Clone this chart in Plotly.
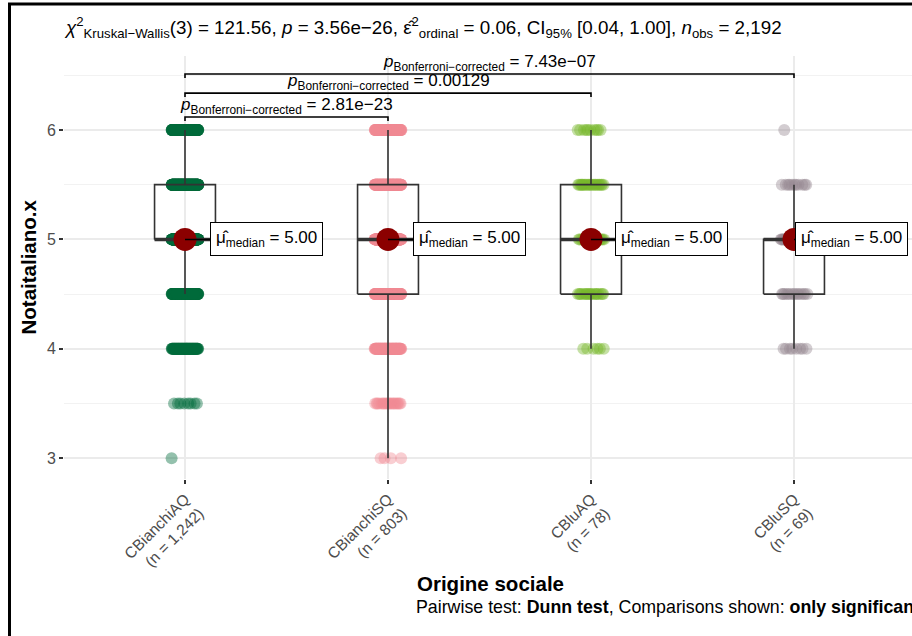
import numpy as np
import plotly.graph_objects as go

# ---------------- data ----------------
groups = ["CBianchiAQ", "CBianchiSQ", "CBluAQ", "CBluSQ"]
score_levels = [3.0, 3.5, 4.0, 4.5, 5.0, 5.5, 6.0]
counts_bianchi_aq = [1, 8, 90, 180, 400, 330, 233]
counts_bianchi_sq = [4, 20, 100, 150, 230, 170, 129]
counts_blu_aq = [0, 0, 6, 18, 22, 22, 10]
counts_blu_sq = [0, 0, 8, 14, 35, 11, 1]
group_counts = [counts_bianchi_aq, counts_bianchi_sq, counts_blu_aq, counts_blu_sq]
group_colors = ["#006B3C", "#F08A94", "#78B82A", "#968792"]

comparisons = [(0, 1), (0, 2), (0, 3)]
p_labels = ["2.81e−23", "0.00129", "7.43e−07"]

title_text = ("<i>χ</i><sup>2</sup><sub>Kruskal−Wallis</sub>(3) = 121.56, <i>p</i> = 3.56e−26, "
              "ε̂<sup>2</sup><sub>ordinal</sub> = 0.06, CI<sub>95%</sub> [0.04, 1.00], "
              "<i>n</i><sub>obs</sub> = 2,192")
x_title = "Origine sociale"
y_title = "Notaitaliano.x"
caption = ("Pairwise test: <b>Dunn test</b>, Comparisons shown: <b>only significant</b>")

# ---------------- layout constants ----------------
FONT = "Liberation Sans, Arial, sans-serif"
W, H = 912, 636
ML, MR, MT, MB = 64, 0, 56, 157
PW, PH = W - ML - MR, H - MT - MB
bar_levels = [6.118, 6.337, 6.511]
bar_drop = 0.035
jitter_half = 0.066


def px_x(px):
    return (px - ML) / PW


def px_y(py):
    return (H - MB - py) / PH


fig = go.Figure()

# expand values
values = []
for cnts in group_counts:
    v = []
    for lvl, c in zip(score_levels, cnts):
        v += [lvl] * c
    values.append(np.array(v))

# jittered points
for g, (vals, col) in enumerate(zip(values, group_colors)):
    n = len(vals)
    offs = jitter_half * (2 * ((np.arange(n) * 0.6180339887 + 0.37 * g) % 1.0) - 1)
    fig.add_trace(go.Scatter(
        x=g + offs, y=vals, mode="markers",
        marker=dict(size=12, color=col, opacity=0.42, line=dict(width=0)),
        hoverinfo="skip", showlegend=False))

# boxes (computed from data)
bw = 0.15
medians = []
for g, vals in enumerate(values):
    q1, med, q3 = np.percentile(vals, [25, 50, 75])
    iqr = q3 - q1
    lo = vals[vals >= q1 - 1.5 * iqr].min()
    hi = vals[vals <= q3 + 1.5 * iqr].max()
    medians.append(med)
    xs = [g - bw, g + bw, g + bw, g - bw, g - bw, None, g, g, None, g, g]
    ys = [q1, q1, q3, q3, q1, None, q3, hi, None, q1, lo]
    fig.add_trace(go.Scatter(x=xs, y=ys, mode="lines",
                             line=dict(color="#333333", width=1.6),
                             hoverinfo="skip", showlegend=False))
    fig.add_trace(go.Scatter(x=[g - bw, g + bw], y=[med, med], mode="lines",
                             line=dict(color="#333333", width=3.5),
                             hoverinfo="skip", showlegend=False))

# median points
fig.add_trace(go.Scatter(x=list(range(len(groups))), y=medians, mode="markers",
                         marker=dict(size=23, color="#8B0000", line=dict(width=0)),
                         hoverinfo="skip", showlegend=False))

# median labels
label_ax = [81, 81, 80, 57]
for g, med in enumerate(medians):
    fig.add_annotation(
        x=g, y=med, xref="x", yref="y",
        text=f"μ̂<sub>median</sub> = {med:.2f}",
        showarrow=True, arrowhead=0, arrowwidth=1.5, arrowcolor="black",
        ax=label_ax[g], ay=0, standoff=0,
        bgcolor="white", bordercolor="black", borderwidth=1, borderpad=5,
        font=dict(family=FONT, size=17, color="black"))

# significance brackets
for (a, b), lab, lvl in zip(comparisons, p_labels, bar_levels):
    fig.add_trace(go.Scatter(x=[a, a, b, b], y=[lvl - bar_drop, lvl, lvl, lvl - bar_drop],
                             mode="lines", line=dict(color="black", width=1.6),
                             hoverinfo="skip", showlegend=False))
    fig.add_annotation(
        x=(a + b) / 2, y=lvl, xref="x", yref="y", yanchor="bottom", yshift=-2,
        text=f"<i>p</i><sub>Bonferroni−corrected</sub> = {lab}",
        showarrow=False, font=dict(family=FONT, size=17, color="black"))

# title, axis titles, caption
fig.add_annotation(x=px_x(62), y=px_y(28), xref="paper", yref="paper",
                   xanchor="left", yanchor="middle", text=title_text, showarrow=False,
                   font=dict(family=FONT, size=18.8, color="black"))
fig.add_annotation(x=px_x(27.5), y=px_y(267), xref="paper", yref="paper",
                   xanchor="center", yanchor="middle", textangle=-90,
                   text=f"<b>{y_title}</b>", showarrow=False,
                   font=dict(family=FONT, size=20.5, color="black"))
fig.add_annotation(x=px_x(490), y=px_y(583), xref="paper", yref="paper",
                   xanchor="center", yanchor="middle",
                   text=f"<b>{x_title}</b>", showarrow=False,
                   font=dict(family=FONT, size=20.5, color="black"))
fig.add_annotation(x=px_x(414), y=px_y(607), xref="paper", yref="paper",
                   xanchor="left", yanchor="middle",
                   text=caption, showarrow=False,
                   font=dict(family=FONT, size=17.8, color="black"))

# outer border (left/top visible)
fig.add_shape(type="rect", xref="paper", yref="paper",
              x0=px_x(9.5), x1=px_x(930), y0=px_y(650), y1=px_y(4),
              line=dict(color="black", width=3), fillcolor="rgba(0,0,0,0)", layer="above")

ticktext = [f"{g}<br>(n = {sum(c):,})" for g, c in zip(groups, group_counts)]

fig.update_layout(
    width=W, height=H,
    margin=dict(l=ML, r=MR, t=MT, b=MB, autoexpand=False),
    paper_bgcolor="white", plot_bgcolor="white",
    showlegend=False,
    font=dict(family=FONT),
    xaxis=dict(range=[(64 - 185) / 203.0, (912 - 185) / 203.0],
               tickmode="array", tickvals=list(range(len(groups))), ticktext=ticktext,
               tickangle=-45, ticks="outside", ticklen=4, tickwidth=1.5, tickcolor="#333333",
               showgrid=True, gridcolor="#EBEBEB", gridwidth=1.5, zeroline=False,
               showline=False, tickfont=dict(family=FONT, size=15.5, color="#4D4D4D")),
    yaxis=dict(range=[2.81, 6.676], tickmode="array", tickvals=[3, 4, 5, 6],
               ticks="outside", ticklen=4, tickwidth=1.5, tickcolor="#333333",
               showgrid=True, gridcolor="#EBEBEB", gridwidth=1.5, zeroline=False,
               showline=False, tickfont=dict(family=FONT, size=16, color="#4D4D4D"),
               minor=dict(tickvals=[3.5, 4.5, 5.5, 6.5], showgrid=True,
                          gridcolor="#F2F2F2", gridwidth=1.2, ticks="")),
)

fig.write_html("out.html")
